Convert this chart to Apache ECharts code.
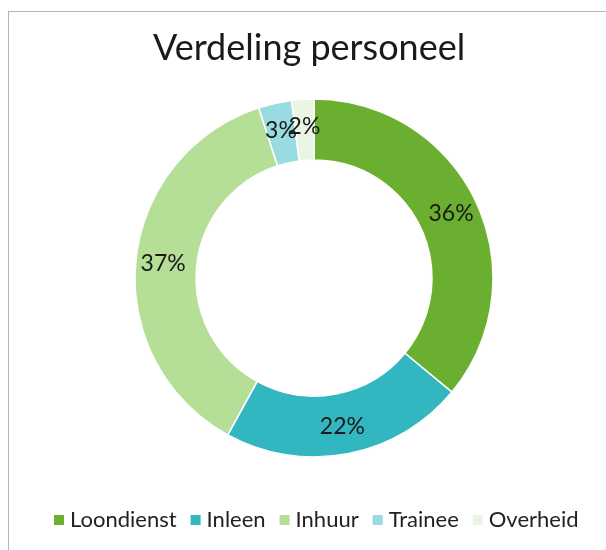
<!DOCTYPE html>
<html>
<head>
<meta charset="utf-8">
<script src="https://cdn.jsdelivr.net/npm/echarts@6/dist/echarts.min.js"></script>
<style>
  html, body { margin: 0; padding: 0; background: #fff; }
  #frame { position: absolute; left: 8px; top: 11px; width: 700px; height: 700px; border: 1px solid #b4b4b4; }
  #chart { position: absolute; left: 0; top: 0; width: 606px; height: 550px; }
</style>
</head>
<body>
<div id="frame"></div>
<div id="chart"></div>
<script>
// data
const categories = ['Loondienst', 'Inleen', 'Inhuur', 'Trainee', 'Overheid'];
const values = [36, 22, 37, 3, 2];
const colors = ['#6aaf2f', '#32b6c0', '#b5de97', '#98dbe0', '#ebf5e3'];

let chart = echarts.init(document.getElementById('chart'));
let option = {
  color: colors,
  title: {
    text: 'Verdeling personeel',
    left: 148,
    top: 25,
    textStyle: {
      fontFamily: 'Lato',
      fontWeight: 'normal',
      fontSize: 36,
      color: '#1a1a1a'
    }
  },
  legend: {
    bottom: 14,
    left: 47,
    itemWidth: 12,
    itemHeight: 12,
    itemGap: 12,
    icon: 'rect',
    textStyle: {
      fontFamily: 'Lato',
      fontSize: 22,
      color: '#222'
    },
    data: categories
  },
  series: [
    {
      name: 'Personeel',
      type: 'pie',
      center: [314, 278],
      radius: [118, 179],
      startAngle: 90,
      clockwise: true,
      silent: true,
      avoidLabelOverlap: false,
      labelLayout: { hideOverlap: false },
      itemStyle: {
        borderColor: '#fff',
        borderWidth: 1.5
      },
      label: {
        show: true,
        position: 'inside',
        formatter: function (p) { return p.value + '%'; },
        fontFamily: 'Lato',
        fontSize: 23,
        color: '#1a1a1a'
      },
      labelLine: { show: false },
      data: categories.map(function (c, i) {
        return { name: c, value: values[i] };
      })
    }
  ]
};
chart.setOption(option);
</script>
</body>
</html>
